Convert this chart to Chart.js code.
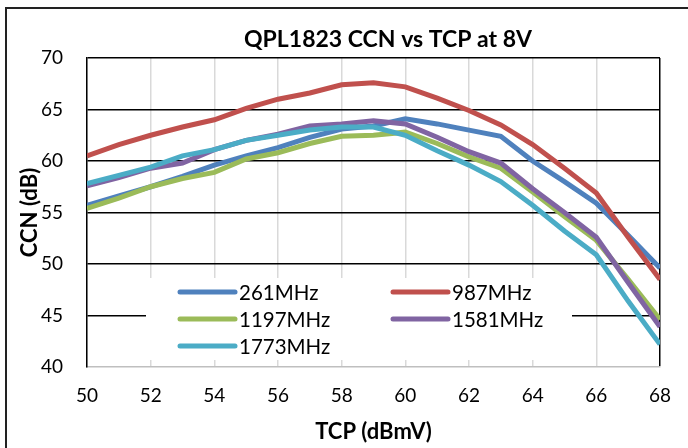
<!DOCTYPE html>
<html>
<head>
<meta charset="utf-8">
<script src="https://cdn.jsdelivr.net/npm/chart.js@4.4.1/dist/chart.umd.min.js"></script>
<style>
  html, body { margin: 0; padding: 0; background: #fff; overflow: hidden; }
  #wrap { position: relative; width: 688px; height: 448px; }
  #frame { position: absolute; left: 5px; top: 7px; width: 720px; height: 480px; border: 2px solid #222; pointer-events: none; }
  canvas { position: absolute; left: 0; top: 0; }
</style>
</head>
<body>
<div id="wrap">
  <canvas id="ccnChart" width="688" height="448"></canvas>
  <div id="frame"></div>
</div>
<script>
// TCP (dBmV) sur l'axe X
const tcp = [50, 51, 52, 53, 54, 55, 56, 57, 58, 59, 60, 61, 62, 63, 64, 65, 66, 67, 68];

// CCN (dB) par fréquence
const ccn261  = [55.7, 56.6, 57.5, 58.5, 59.6, 60.5, 61.3, 62.3, 63.1, 63.4, 64.1, 63.6, 63.0, 62.4, 60.0, 58.0, 55.9, 52.8, 49.6];
const ccn987  = [60.5, 61.6, 62.5, 63.3, 64.0, 65.1, 66.0, 66.6, 67.4, 67.6, 67.2, 66.1, 64.9, 63.5, 61.6, 59.3, 56.9, 52.6, 48.5];
const ccn1197 = [55.4, 56.4, 57.5, 58.3, 58.9, 60.2, 60.8, 61.7, 62.4, 62.5, 62.8, 61.7, 60.4, 59.3, 57.0, 54.6, 52.3, 48.5, 44.6];
const ccn1581 = [57.6, 58.4, 59.3, 59.8, 61.1, 62.0, 62.6, 63.4, 63.6, 63.9, 63.6, 62.3, 60.9, 59.8, 57.3, 55.0, 52.6, 48.2, 43.9];
const ccn1773 = [57.8, 58.6, 59.4, 60.5, 61.1, 62.0, 62.5, 63.0, 63.3, 63.3, 62.5, 61.0, 59.6, 58.0, 55.7, 53.2, 50.9, 46.4, 42.2];

const seriesNames = ['261MHz', '987MHz', '1197MHz', '1581MHz', '1773MHz'];
const seriesColors = ['#4F81BD', '#C0504D', '#9BBB59', '#8064A2', '#4BACC6'];
const seriesValues = [ccn261, ccn987, ccn1197, ccn1581, ccn1773];

const chartTitle = 'QPL1823 CCN vs TCP at 8V';
const fontFamily = 'Lato, "Noto Sans", sans-serif';

document.addEventListener("DOMContentLoaded", function() {
  const ctx = document.getElementById('ccnChart').getContext('2d');

  const datasets = seriesValues.map((vals, i) => ({
    label: seriesNames[i],
    data: tcp.map((t, j) => ({ x: t, y: vals[j] })),
    borderColor: seriesColors[i],
    backgroundColor: seriesColors[i],
    borderWidth: 5,
    pointRadius: 0,
    tension: 0,
    fill: false,
    order: seriesValues.length - i   // la dernière série passe au-dessus, comme dans Excel
  }));

  // Titre + légende dessinés à la main (légende sur 2 colonnes dans la zone du graphique)
  const titleAndLegend = {
    id: 'titleAndLegend',
    afterDraw(chart) {
      const c = chart.ctx;
      const area = chart.chartArea;
      c.save();
      c.fillStyle = '#000';
      c.font = 'bold 23px ' + fontFamily;
      c.textAlign = 'center';
      c.textBaseline = 'middle';
      c.fillText(chartTitle, 388, 40);

      // boîte blanche de la légende
      const boxX = area.left + 59, boxY = area.top + 220;
      c.fillStyle = '#fff';
      c.fillRect(boxX, boxY, 426, 82);

      c.font = '20.5px ' + fontFamily;
      c.textAlign = 'left';
      c.lineCap = 'round';
      c.lineWidth = 5;
      seriesNames.forEach((name, i) => {
        const col = i % 2, row = Math.floor(i / 2);
        const lx = col === 0 ? boxX + 34 : boxX + 247;
        const ly = boxY + 14 + row * 27;
        c.strokeStyle = seriesColors[i];
        c.beginPath();
        c.moveTo(lx, ly);
        c.lineTo(lx + 55, ly);
        c.stroke();
        c.fillStyle = '#000';
        c.fillText(name, lx + 59, ly + 1);
      });
      c.restore();
    }
  };

  new Chart(ctx, {
    type: 'line',
    data: { datasets: datasets },
    options: {
      responsive: false,
      animation: false,
      layout: { padding: { top: 58, right: 21, left: 0, bottom: 0 } },
      plugins: {
        legend: { display: false },
        tooltip: { enabled: false },
        title: { display: false }
      },
      scales: {
        x: {
          type: 'linear',
          min: 50,
          max: 68,
          ticks: { stepSize: 2, color: '#000', font: { family: fontFamily, size: 19 }, padding: 17 },
          grid: {
            color: c => c.tick.value === 68 ? '#000' : '#d9d9d9',
            lineWidth: 1.5,
            drawTicks: false
          },
          border: { color: '#bfbfbf', width: 1.5 },
          title: {
            display: true,
            text: 'TCP (dBmV)',
            color: '#000',
            font: { family: fontFamily, size: 22, weight: 'bold' },
            padding: { top: 0, bottom: 3 }
          },
          afterFit: s => { s.height = 81; }
        },
        y: {
          min: 40,
          max: 70,
          ticks: { stepSize: 5, color: '#000', font: { family: fontFamily, size: 19 }, padding: 24 },
          grid: {
            color: c => c.tick.value === 40 ? 'rgba(0,0,0,0)' : '#000',
            lineWidth: 1.5,
            drawTicks: false
          },
          border: { color: '#000', width: 1.5 },
          title: {
            display: true,
            text: 'CCN (dB)',
            color: '#000',
            font: { family: fontFamily, size: 22, weight: 'bold' },
            padding: { top: 17, bottom: 0 }
          },
          afterFit: s => { s.width = 87; }
        }
      }
    },
    plugins: [titleAndLegend]
  });
});
</script>
</body>
</html>
